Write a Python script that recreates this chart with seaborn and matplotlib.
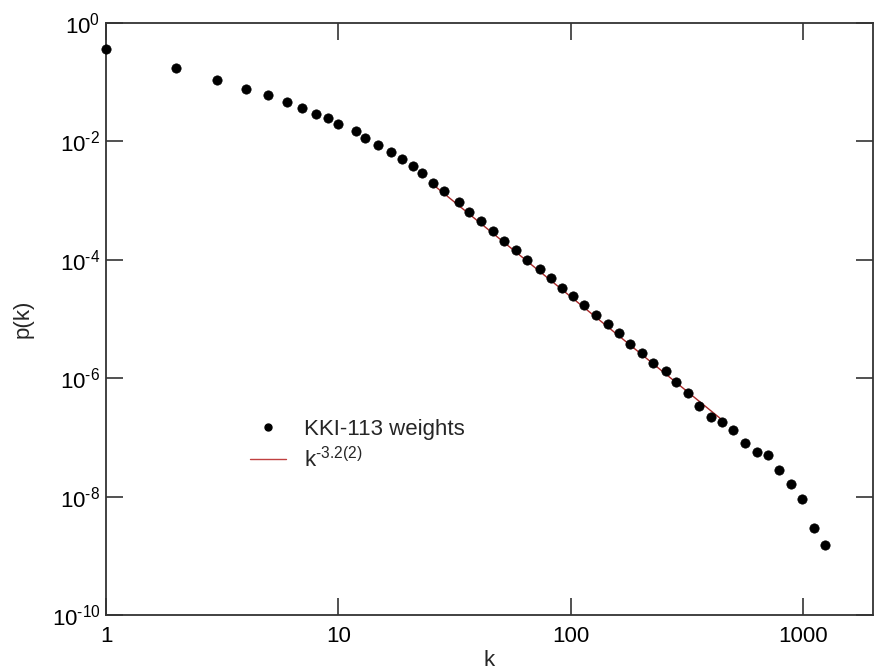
import numpy as np
import pandas as pd
import matplotlib
matplotlib.use("Agg")
import matplotlib.pyplot as plt
import seaborn as sns
from matplotlib.lines import Line2D

# ---- data ----
k_vals = [1, 2, 3, 4, 5, 6, 7, 8, 9, 10,
          11.9, 13, 14.8, 16.8, 18.8, 20.9, 22.8, 25.6, 28.5,
          33.0, 36.5, 41.3, 46.2, 51.7, 58.4, 64.9, 73.6, 82.6, 91.5,
          102, 114, 129, 145, 161, 180, 202, 227, 256, 285,
          319, 357, 400, 448, 499, 560, 633, 706, 785, 889,
          988, 1113, 1241]
p_vals = [0.358, 0.175, 0.111, 0.078, 0.060, 0.046, 0.037, 0.029, 0.025, 0.0195,
          0.015, 0.0114, 0.0088, 0.0066, 0.0051, 0.0038, 0.0029, 0.00196, 0.00148,
          9.4e-4, 6.5e-4, 4.5e-4, 3.06e-4, 2.1e-4, 1.46e-4, 9.9e-5, 7.1e-5, 4.95e-5, 3.4e-5,
          2.4e-5, 1.73e-5, 1.17e-5, 8.1e-6, 5.9e-6, 3.8e-6, 2.65e-6, 1.82e-6, 1.32e-6, 8.6e-7,
          5.6e-7, 3.35e-7, 2.2e-7, 1.8e-7, 1.35e-7, 8.2e-8, 5.6e-8, 5.1e-8, 2.8e-8, 1.66e-8,
          9.0e-9, 2.9e-9, 1.5e-9]
fit_k = [25, 450]
fit_p = [2.0e-3, 1.95e-7]

x_ticks = [1, 10, 100, 1000]
x_tick_labels = ["1", "10", "100", "1000"]
y_ticks = [1e-10, 1e-8, 1e-6, 1e-4, 1e-2, 1]
y_tick_labels = [r"10$^{\text{-10}}$", r"10$^{\text{-8}}$", r"10$^{\text{-6}}$",
                 r"10$^{\text{-4}}$", r"10$^{\text{-2}}$", r"10$^{\text{0}}$"]

series_label = "KKI-113 weights"
fit_label = r"k$^{\text{-3.2(2)}}$"

# ---- style ----
sns.set_style("ticks")
plt.rcParams["font.family"] = ["Liberation Sans", "DejaVu Sans"]
plt.rcParams["mathtext.fontset"] = "custom"
plt.rcParams["mathtext.rm"] = "Liberation Sans"
plt.rcParams["mathtext.it"] = "Liberation Sans"
plt.rcParams["mathtext.default"] = "regular"

fig = plt.figure(figsize=(8.76, 6.70), dpi=100)
ax = fig.add_axes([106/876, 1 - 615/670, (873 - 106)/876, (615 - 23)/670])

df = pd.DataFrame({"k": k_vals, "p": p_vals})
fit_df = pd.DataFrame({"k": fit_k, "p": fit_p})

sns.lineplot(data=fit_df, x="k", y="p", ax=ax, color="#a82828", linewidth=1.0, zorder=2)
sns.scatterplot(data=df, x="k", y="p", ax=ax, color="black", s=45, marker="o",
                edgecolor="black", linewidth=0.5, zorder=3, clip_on=False)

ax.set_xscale("log")
ax.set_yscale("log")
ax.set_xlim(1, 2000)
ax.set_ylim(1e-10, 1)
ax.set_xticks(x_ticks)
ax.set_xticklabels(x_tick_labels)
ax.set_yticks(y_ticks)
ax.set_yticklabels(y_tick_labels)
ax.minorticks_off()

ax.tick_params(axis="both", which="major", direction="in", length=12, width=1.2,
               colors="#333333", labelcolor="black", labelsize=16,
               top=True, right=True)
ax.tick_params(axis="x", pad=8)
ax.tick_params(axis="y", pad=4)
for sp in ax.spines.values():
    sp.set_visible(True)
    sp.set_linewidth(1.3)
    sp.set_color("#333333")

ax.set_xlabel("k", fontsize=16, labelpad=2)
ax.set_ylabel("p(k)", fontsize=16, labelpad=13)

handles = [Line2D([], [], marker="o", color="black", linestyle="none", markersize=5),
           Line2D([], [], color="#c04040", linewidth=1.0)]
ax.legend(handles, [series_label, fit_label], loc="upper left",
          bbox_to_anchor=(0.162, 0.365), frameon=False, fontsize=16,
          handlelength=1.6, handletextpad=0.8, labelspacing=0.3)

fig.savefig("out.png", dpi=100)
